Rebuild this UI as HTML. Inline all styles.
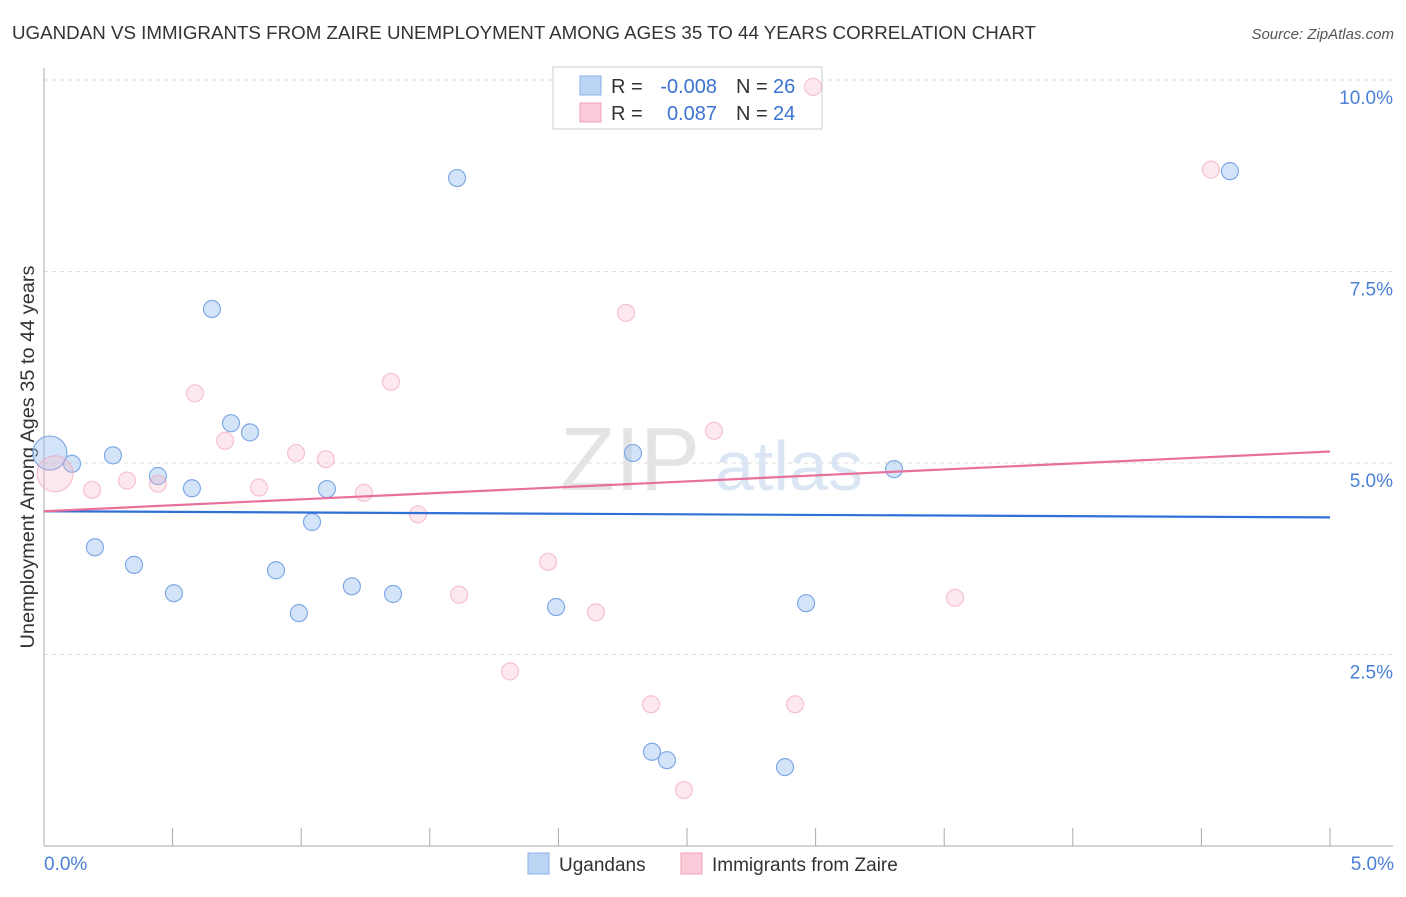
<!DOCTYPE html>
<html><head><meta charset="utf-8"><style>
body{margin:0;background:#fff;font-family:"Liberation Sans",sans-serif;}
svg text{font-family:"Liberation Sans",sans-serif;}
</style></head><body>
<svg width="1406" height="892">
<text x="12" y="39" font-size="18.5" fill="#333" textLength="1024" lengthAdjust="spacingAndGlyphs">UGANDAN VS IMMIGRANTS FROM ZAIRE UNEMPLOYMENT AMONG AGES 35 TO 44 YEARS CORRELATION CHART</text>
<text x="1394" y="39" font-size="15" fill="#555" font-style="italic" text-anchor="end">Source: ZipAtlas.com</text>
<g id="grid"></g>
<text x="560" y="490" font-size="90" fill="#e4e4e4" font-family="Liberation Serif">ZIP</text>
<text x="715" y="490" font-size="70" fill="#dbe6f5">atlas</text>
<line x1="44" y1="68" x2="44" y2="846" stroke="#aaa"/>
<line x1="44" y1="846" x2="1393" y2="846" stroke="#aaa"/>
<text transform="translate(34,457) rotate(-90)" font-size="19" fill="#333" text-anchor="middle" textLength="383" lengthAdjust="spacingAndGlyphs">Unemployment Among Ages 35 to 44 years</text>
<text x="44" y="870" font-size="19" fill="#4a7fd6">0.0%</text>
<text x="1394" y="870" font-size="19" fill="#4a7fd6" text-anchor="end">5.0%</text>
<rect x="553" y="67" width="269" height="62" fill="#fff" stroke="#ccc"/>
<rect x="580" y="76" width="21" height="19" fill="#bcd5f5" stroke="#8ab0e8"/>
<rect x="580" y="103" width="21" height="19" fill="#fbcbd9" stroke="#f0a0b8"/>
<g font-size="20">
<text x="611" y="93" fill="#333">R =</text>
<text x="717" y="93" fill="#3b73d1" text-anchor="end">-0.008</text>
<text x="736" y="93" fill="#333">N =</text>
<text x="773" y="93" fill="#3b73d1">26</text>
<text x="611" y="120" fill="#333">R =</text>
<text x="717" y="120" fill="#3b73d1" text-anchor="end">0.087</text>
<text x="736" y="120" fill="#333">N =</text>
<text x="773" y="120" fill="#3b73d1">24</text>
</g>
<g id="points"></g>
<g id="trends"></g>
<rect x="528" y="853" width="21" height="21" fill="#bcd5f5" stroke="#8ab0e8"/>
<text x="559" y="871" font-size="19" fill="#333">Ugandans</text>
<rect x="681" y="853" width="21" height="21" fill="#fbcbd9" stroke="#f0a0b8"/>
<text x="712" y="871" font-size="19" fill="#333">Immigrants from Zaire</text>
</svg>
<script>
const yTicks=[2.5,5,7.5,10];
const yTickLabels=["2.5%","5.0%","7.5%","10.0%"];
const xTicks=[0,0.5,1,1.5,2,2.5,3,3.5,4,4.5,5];
const blueX=[0.023,0.109,0.268,0.443,0.575,0.198,0.350,0.505,0.653,0.727,0.801,0.902,0.991,1.042,1.100,1.197,1.357,1.606,1.991,2.290,2.364,2.422,2.881,2.963,3.305,4.611];
const blueY=[5.13,4.99,5.10,4.83,4.67,3.90,3.67,3.30,7.01,5.52,5.40,3.60,3.04,4.23,4.66,3.39,3.29,8.72,3.12,5.13,1.23,1.12,1.03,3.17,4.92,8.81];
const pinkX=[0.043,0.187,0.323,0.443,0.587,0.704,0.836,0.980,1.096,1.244,1.349,1.454,1.614,1.812,1.960,2.146,2.263,2.360,2.488,2.605,2.920,2.990,3.542,4.537];
const pinkY=[4.86,4.65,4.77,4.73,5.91,5.29,4.68,5.13,5.05,4.61,6.06,4.33,3.28,2.28,3.71,3.05,6.96,1.85,0.73,5.42,1.85,9.91,3.24,8.83];
const blueTrend=[4.37,4.29];
const pinkTrend=[4.37,5.15];
const NS="http://www.w3.org/2000/svg";
const X=v=>44+v*257.2, Y=v=>846-v*76.6;
const grid=document.getElementById('grid');
yTicks.forEach((t,i)=>{
 const l=document.createElementNS(NS,'line');
 
 
 l.setAttribute('x1',44);l.setAttribute('x2',1393);l.setAttribute('y1',Y(t));l.setAttribute('y2',Y(t));
 l.setAttribute('stroke','#ddd');l.setAttribute('stroke-dasharray','4,4');grid.appendChild(l);
 const tx=document.createElementNS(NS,'text');
 
 
 tx.setAttribute('x',1393);tx.setAttribute('y',Y(t)+24);tx.setAttribute('text-anchor','end');
 tx.setAttribute('font-size','19');tx.setAttribute('fill','#4a7fd6');tx.textContent=yTickLabels[i];grid.appendChild(tx);
});
xTicks.forEach(t=>{
 const l=document.createElementNS(NS,'line');
 
 
 l.setAttribute('x1',X(t));l.setAttribute('x2',X(t));l.setAttribute('y1',828);l.setAttribute('y2',846);
 l.setAttribute('stroke','#aaa');grid.appendChild(l);
});
const pts=document.getElementById('points');
function dot(x,y,r,fill,stroke,name){
 const c=document.createElementNS(NS,'circle');
 
 
 c.setAttribute('cx',X(x));c.setAttribute('cy',Y(y));c.setAttribute('r',r);
 c.setAttribute('fill',fill);c.setAttribute('stroke',stroke);c.setAttribute('stroke-width','1.2');pts.appendChild(c);
}
blueX.forEach((x,i)=>dot(x,blueY[i],i===0?17:8.5,'rgba(160,195,240,0.45)','#7fa9e6','point-ugandans'));
pinkX.forEach((x,i)=>dot(x,pinkY[i],i===0?18:8.5,'rgba(248,180,200,0.3)','rgba(240,160,184,0.6)','point-zaire'));
const tr=document.getElementById('trends');
function line(a,col,name){
 const l=document.createElementNS(NS,'line');
 
 
 l.setAttribute('x1',X(0));l.setAttribute('x2',X(5));l.setAttribute('y1',Y(a[0]));l.setAttribute('y2',Y(a[1]));
 l.setAttribute('stroke',col);l.setAttribute('stroke-width','2.2');tr.appendChild(l);
}
line(blueTrend,'#2f6fd6','trend-ugandans');
line(pinkTrend,'#e8709a','trend-zaire');
</script>
</body></html>
